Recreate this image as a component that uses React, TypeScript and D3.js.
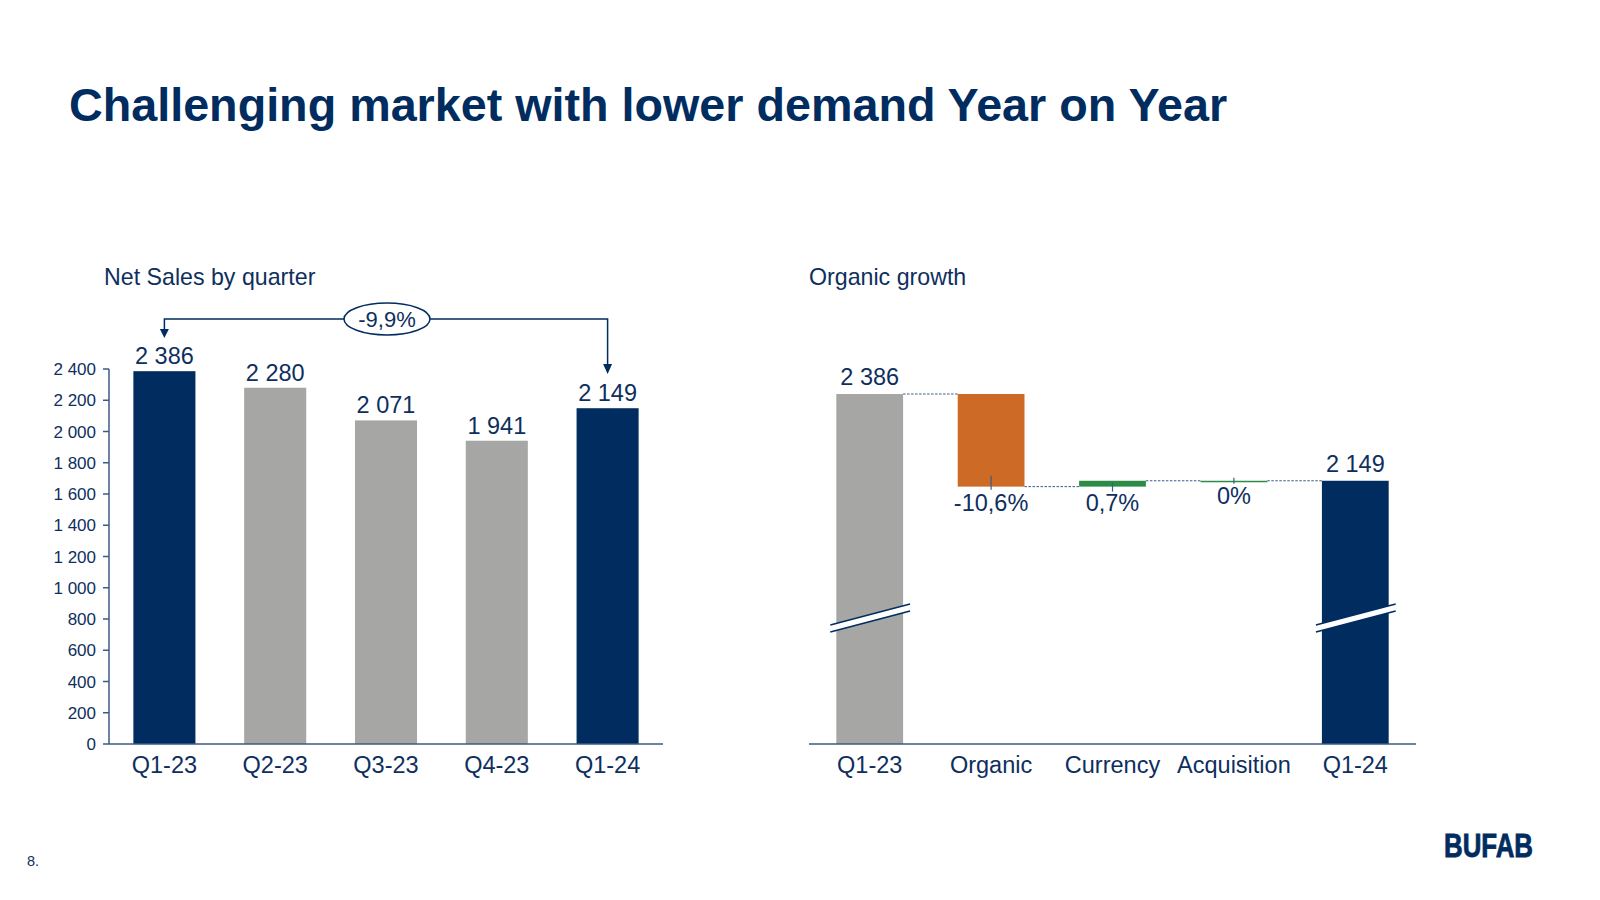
import React from "react";
import * as d3 from "d3";

const quarters = ["Q1-23", "Q2-23", "Q3-23", "Q4-23", "Q1-24"];
const netSales = [2386, 2280, 2071, 1941, 2149];
const highlight = [true, false, false, false, true];
const yTicks = [0, 200, 400, 600, 800, 1000, 1200, 1400, 1600, 1800, 2000, 2200, 2400];
const changeLabel = "-9,9%";

const wfCategories = ["Q1-23", "Organic", "Currency", "Acquisition", "Q1-24"];
const wfDeltas = [2386, -253, 16, 0, 2149];
const wfKinds = ["total", "delta", "delta", "delta", "total"];
const wfLabels = ["2 386", "-10,6%", "0,7%", "0%", "2 149"];

const NAVY = "#002C5F";
const TEXT = "#0E2F5E";
const GRAY = "#A6A6A5";
const ORANGE = "#CC6A26";
const GREEN = "#2E8B46";
const AXIS = "#3B5A86";
const FONT = "'Liberation Sans', Arial, sans-serif";

const fmt = (v: number) => {
  const s = String(v);
  return s.length > 3 ? s.slice(0, s.length - 3) + " " + s.slice(-3) : s;
};

export default function App() {
  // Left chart
  const x = d3.scaleBand<string>().domain(quarters).range([109, 663]).paddingInner(0.44).paddingOuter(0.22);
  const y = d3.scaleLinear().domain([0, 2400]).range([744, 369]);

  // Right chart (broken axis)
  const xw = d3.scaleBand<string>().domain(wfCategories).range([809, 1416]).paddingInner(0.45).paddingOuter(0.225);
  const yw = d3.scaleLinear().domain([1430, 2386]).range([744, 394]);

  let running = 0;
  const segs = wfCategories.map((c, i) => {
    if (wfKinds[i] === "total") {
      running = wfDeltas[i];
      return { c, start: yw.domain()[0], end: wfDeltas[i], level: wfDeltas[i], i };
    }
    const start = running;
    running = running + wfDeltas[i];
    return { c, start, end: running, level: running, i };
  });
  const colorFor = (i: number) => {
    if (i === 0) return GRAY;
    if (i === wfCategories.length - 1) return NAVY;
    return wfDeltas[i] < 0 ? ORANGE : GREEN;
  };

  const xFirst = x(quarters[0])! + x.bandwidth() / 2;
  const xLast = x(quarters[quarters.length - 1])! + x.bandwidth() / 2;
  const arrowY = 319;
  const ellX = (xFirst + xLast) / 2;

  return (
    <svg width={1600} height={900} style={{ position: "absolute", left: 0, top: 0, background: "#fff" }} fontFamily={FONT}>
      <text x={69} y={121} fontSize={46.7} fontWeight="bold" fill={NAVY}>
        Challenging market with lower demand Year on Year
      </text>

      {/* Left chart */}
      <text x={104} y={285} fontSize={23.2} fill={TEXT}>Net Sales by quarter</text>
      {quarters.map((q, i) => (
        <g key={q}>
          <rect x={x(q)} y={y(netSales[i])} width={x.bandwidth()} height={y(0) - y(netSales[i])} fill={highlight[i] ? NAVY : GRAY} />
          <text x={x(q)! + x.bandwidth() / 2} y={y(netSales[i]) - 7} fontSize={23.5} fill={TEXT} textAnchor="middle">{fmt(netSales[i])}</text>
          <text x={x(q)! + x.bandwidth() / 2} y={773} fontSize={23.5} fill={TEXT} textAnchor="middle">{q}</text>
        </g>
      ))}
      <line x1={109} x2={109} y1={y(2400)} y2={y(0)} stroke={AXIS} strokeWidth={1.5} />
      <line x1={109} x2={663} y1={y(0)} y2={y(0)} stroke={AXIS} strokeWidth={1.5} />
      {yTicks.map((t) => (
        <g key={t}>
          <line x1={103} x2={109} y1={y(t)} y2={y(t)} stroke={AXIS} strokeWidth={1.5} />
          <text x={96} y={y(t) + 6} fontSize={17} fill={TEXT} textAnchor="end">{fmt(t)}</text>
        </g>
      ))}
      {/* annotation */}
      <path d={`M${xFirst},331 V${arrowY} H${xLast} V366`} fill="none" stroke={NAVY} strokeWidth={1.5} />
      <path d={`M${xFirst - 4.5},329 L${xFirst + 4.5},329 L${xFirst},338 Z`} fill={NAVY} />
      <path d={`M${xLast - 4.5},364 L${xLast + 4.5},364 L${xLast},374 Z`} fill={NAVY} />
      <ellipse cx={ellX + 1} cy={arrowY} rx={43} ry={16} fill="#fff" stroke={NAVY} strokeWidth={1.5} />
      <text x={ellX + 1} y={arrowY + 8} fontSize={22} fill={TEXT} textAnchor="middle">{changeLabel}</text>

      {/* Right chart */}
      <text x={809} y={285} fontSize={23.2} fill={TEXT}>Organic growth</text>
      {segs.map((s) => {
        const top = yw(Math.max(s.start, s.end));
        const bot = yw(Math.min(s.start, s.end));
        const bx = xw(s.c)!;
        return (
          <rect key={s.c} x={bx} y={top} width={xw.bandwidth()} height={Math.max(bot - top, 1.5)} fill={colorFor(s.i)} />
        );
      })}
      {/* connectors */}
      {segs.slice(0, -1).map((s, i) => {
        const nx = xw(wfCategories[i + 1])!;
        const ly = yw(s.level);
        return <line key={"c" + i} x1={xw(s.c)! + xw.bandwidth()} x2={nx} y1={ly} y2={ly} stroke={AXIS} strokeWidth={1} strokeDasharray="2.5,1.5" />;
      })}
      {/* small ticks at delta bars */}
      {segs.filter((s) => wfKinds[s.i] === "delta").map((s) => {
        const cx = xw(s.c)! + xw.bandwidth() / 2;
        const lo = yw(Math.min(s.start, s.end));
        const len = s.i === 1 ? 11 : s.i === 2 ? 4 : 3;
        return <line key={"t" + s.i} x1={cx} x2={cx} y1={lo - len} y2={lo + (s.i === 2 ? 5 : 3)} stroke={AXIS} strokeWidth={1.2} />;
      })}
      {/* labels */}
      {segs.map((s) => {
        const cx = xw(s.c)! + xw.bandwidth() / 2;
        if (wfKinds[s.i] === "total") {
          return <text key={"l" + s.i} x={cx} y={yw(s.end) - 9} fontSize={23.5} fill={TEXT} textAnchor="middle">{wfLabels[s.i]}</text>;
        }
        const lo = yw(Math.min(s.start, s.end));
        const off = s.i === 3 ? 23 : 24;
        return <text key={"l" + s.i} x={cx} y={lo + off} fontSize={23.5} fill={TEXT} textAnchor="middle">{wfLabels[s.i]}</text>;
      })}
      {/* axis breaks */}
      {[0, wfCategories.length - 1].map((i) => {
        const bx = xw(wfCategories[i])!;
        const x1 = bx - 6;
        const x2 = bx + xw.bandwidth() + 7;
        const yL = 625, yR = 604, gap = 7;
        return (
          <g key={"b" + i}>
            <path d={`M${x1},${yL} L${x2},${yR} L${x2},${yR + gap} L${x1},${yL + gap} Z`} fill="#fff" />
            <line x1={x1} y1={yL} x2={x2} y2={yR} stroke={NAVY} strokeWidth={1.5} />
            <line x1={x1} y1={yL + gap} x2={x2} y2={yR + gap} stroke={NAVY} strokeWidth={1.5} />
          </g>
        );
      })}
      <line x1={809} x2={1416} y1={744} y2={744} stroke={AXIS} strokeWidth={1.5} />
      {wfCategories.map((c) => (
        <text key={"x" + c} x={xw(c)! + xw.bandwidth() / 2} y={773} fontSize={23.5} fill={TEXT} textAnchor="middle">{c}</text>
      ))}

      {/* footer */}
      <text x={27} y={866} fontSize={14.5} fill={TEXT}>8.</text>
      <text x={1444} y={857} fontSize={33} fontWeight={900} fill={NAVY} textLength={89} lengthAdjust="spacingAndGlyphs" stroke={NAVY} strokeWidth={0.8}>BUFAB</text>
    </svg>
  );
}
